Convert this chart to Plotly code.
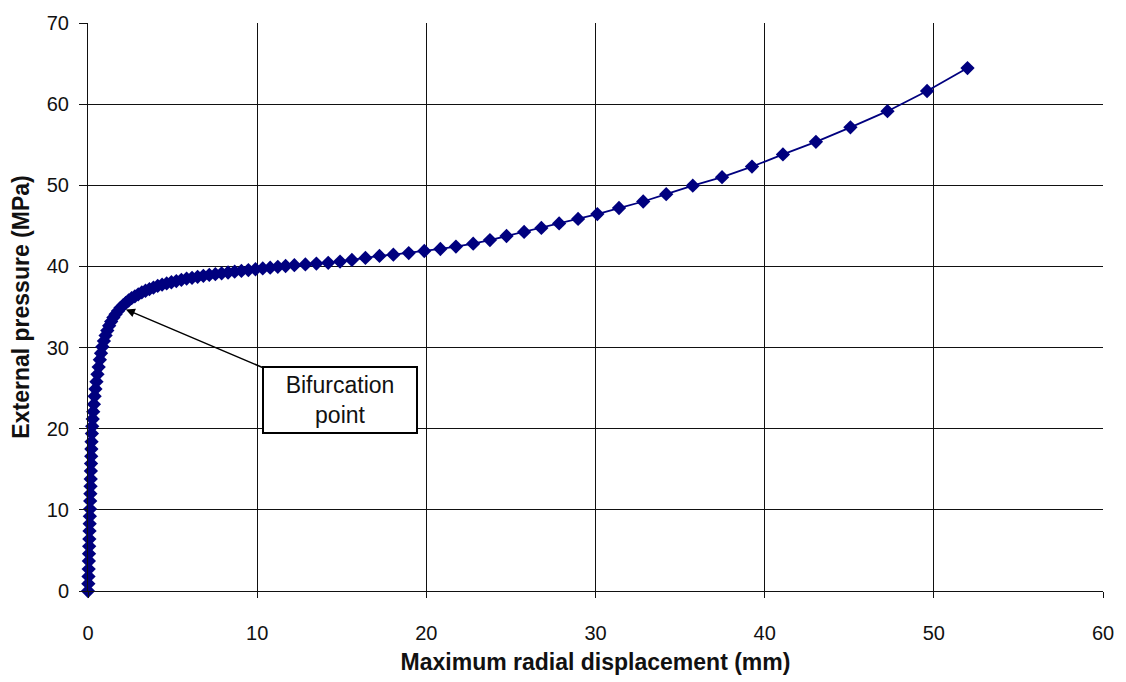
import plotly.graph_objects as go

# Load-displacement response: radial displacement (mm) vs external pressure (MPa)
displacement = [
    0.00, 0.02, 0.03, 0.04, 0.05, 0.06, 0.07, 0.08, 0.09, 0.10,
    0.11, 0.12, 0.13, 0.14, 0.15, 0.16, 0.17, 0.18, 0.19, 0.20,
    0.21, 0.23, 0.25, 0.28, 0.31, 0.35, 0.39, 0.44, 0.50, 0.56,
    0.63, 0.70, 0.77, 0.85, 0.94, 1.04, 1.14, 1.25, 1.37, 1.50,
    1.63, 1.77, 1.92, 2.07, 2.23, 2.40, 2.58, 2.77, 2.97, 3.18,
    3.40, 3.63, 3.87, 4.12, 4.38, 4.65, 4.93, 5.22, 5.52, 5.83,
    6.15, 6.48, 6.82, 7.17, 7.53, 7.90, 8.28, 8.67, 9.07, 9.48,
    9.90, 10.33, 10.77, 11.22, 11.68, 12.20, 12.85, 13.50, 14.20, 14.90,
    15.60, 16.40, 17.23, 18.05, 18.96, 19.88, 20.83, 21.75, 22.77, 23.76,
    24.74, 25.78, 26.80, 27.85, 28.97, 30.11, 31.39, 32.82, 34.18, 35.75,
    37.48, 39.25, 41.08, 43.03, 45.07, 47.26, 49.60, 51.99,
]
pressure = [
    0.0, 0.9, 1.8, 2.7, 3.7, 4.6, 5.5, 6.4, 7.4, 8.3,
    9.2, 10.1, 11.1, 12.0, 12.9, 13.8, 14.8, 15.7, 16.6, 17.5,
    18.4, 19.4, 20.3, 21.2, 22.1, 23.0, 24.0, 24.9, 25.8, 26.7,
    27.6, 28.5, 29.3, 30.1, 30.8, 31.5, 32.1, 32.7, 33.2, 33.7,
    34.1, 34.5, 34.9, 35.2, 35.5, 35.8, 36.1, 36.3, 36.55, 36.8,
    37.0, 37.2, 37.4, 37.6, 37.75, 37.9, 38.05, 38.2, 38.35, 38.5,
    38.6, 38.72, 38.84, 38.95, 39.05, 39.15, 39.25, 39.35, 39.45, 39.55,
    39.65, 39.75, 39.85, 39.95, 40.05, 40.15, 40.25, 40.35, 40.45, 40.6,
    40.8, 41.05, 41.3, 41.45, 41.65, 41.9, 42.15, 42.45, 42.8, 43.25,
    43.75, 44.25, 44.75, 45.3, 45.85, 46.45, 47.2, 48.0, 48.9, 49.95,
    51.0, 52.3, 53.8, 55.35, 57.14, 59.13, 61.62, 64.45,
]

# Where the path bifurcates, and where its label box sits
bifurcation = (2.24, 34.7)
label_pos = (14.87, 23.5)

x_ticks = [0, 10, 20, 30, 40, 50, 60]
y_ticks = [0, 10, 20, 30, 40, 50, 60, 70]

navy = "#00007f"
font = "Arial, Liberation Sans, sans-serif"

fig = go.Figure()
fig.add_trace(go.Scatter(
    x=displacement, y=pressure,
    mode="lines+markers",
    line=dict(color=navy, width=1.8),
    marker=dict(symbol="diamond", size=11, color=navy),
    cliponaxis=False,
    showlegend=False,
))

fig.add_annotation(
    x=bifurcation[0], y=bifurcation[1],
    ax=label_pos[0], ay=label_pos[1],
    xref="x", yref="y", axref="x", ayref="y",
    text="Bifurcation<br>point",
    showarrow=True, arrowhead=2, arrowsize=1.2, arrowwidth=1.5, arrowcolor="black",
    font=dict(family=font, size=23, color="#111"),
    bgcolor="white", bordercolor="black", borderwidth=2, borderpad=1,
    width=150, height=62,
)

axis_common = dict(
    showgrid=True, gridcolor="#111", gridwidth=1,
    showline=True, linecolor="#111", linewidth=1,
    ticks="outside", tickcolor="#111",
    tickfont=dict(family=font, size=20, color="#111"),
    zeroline=False,
)

fig.update_xaxes(
    range=[0, 60], tickvals=x_ticks, ticklen=6, ticklabelstandoff=18,
    title=dict(text="<b>Maximum radial displacement (mm)</b>",
               font=dict(family=font, size=23, color="#111"), standoff=10),
    **axis_common,
)
fig.update_yaxes(
    range=[0, 70], tickvals=y_ticks, ticklen=8, ticklabelstandoff=6,
    title=dict(text="<b>External pressure (MPa)</b>",
               font=dict(family=font, size=23, color="#111"), standoff=10),
    **axis_common,
)

fig.update_layout(
    width=1126, height=682,
    margin=dict(l=88, r=19, t=14, b=91),
    paper_bgcolor="white", plot_bgcolor="white",
)

fig.write_html("out.html")
